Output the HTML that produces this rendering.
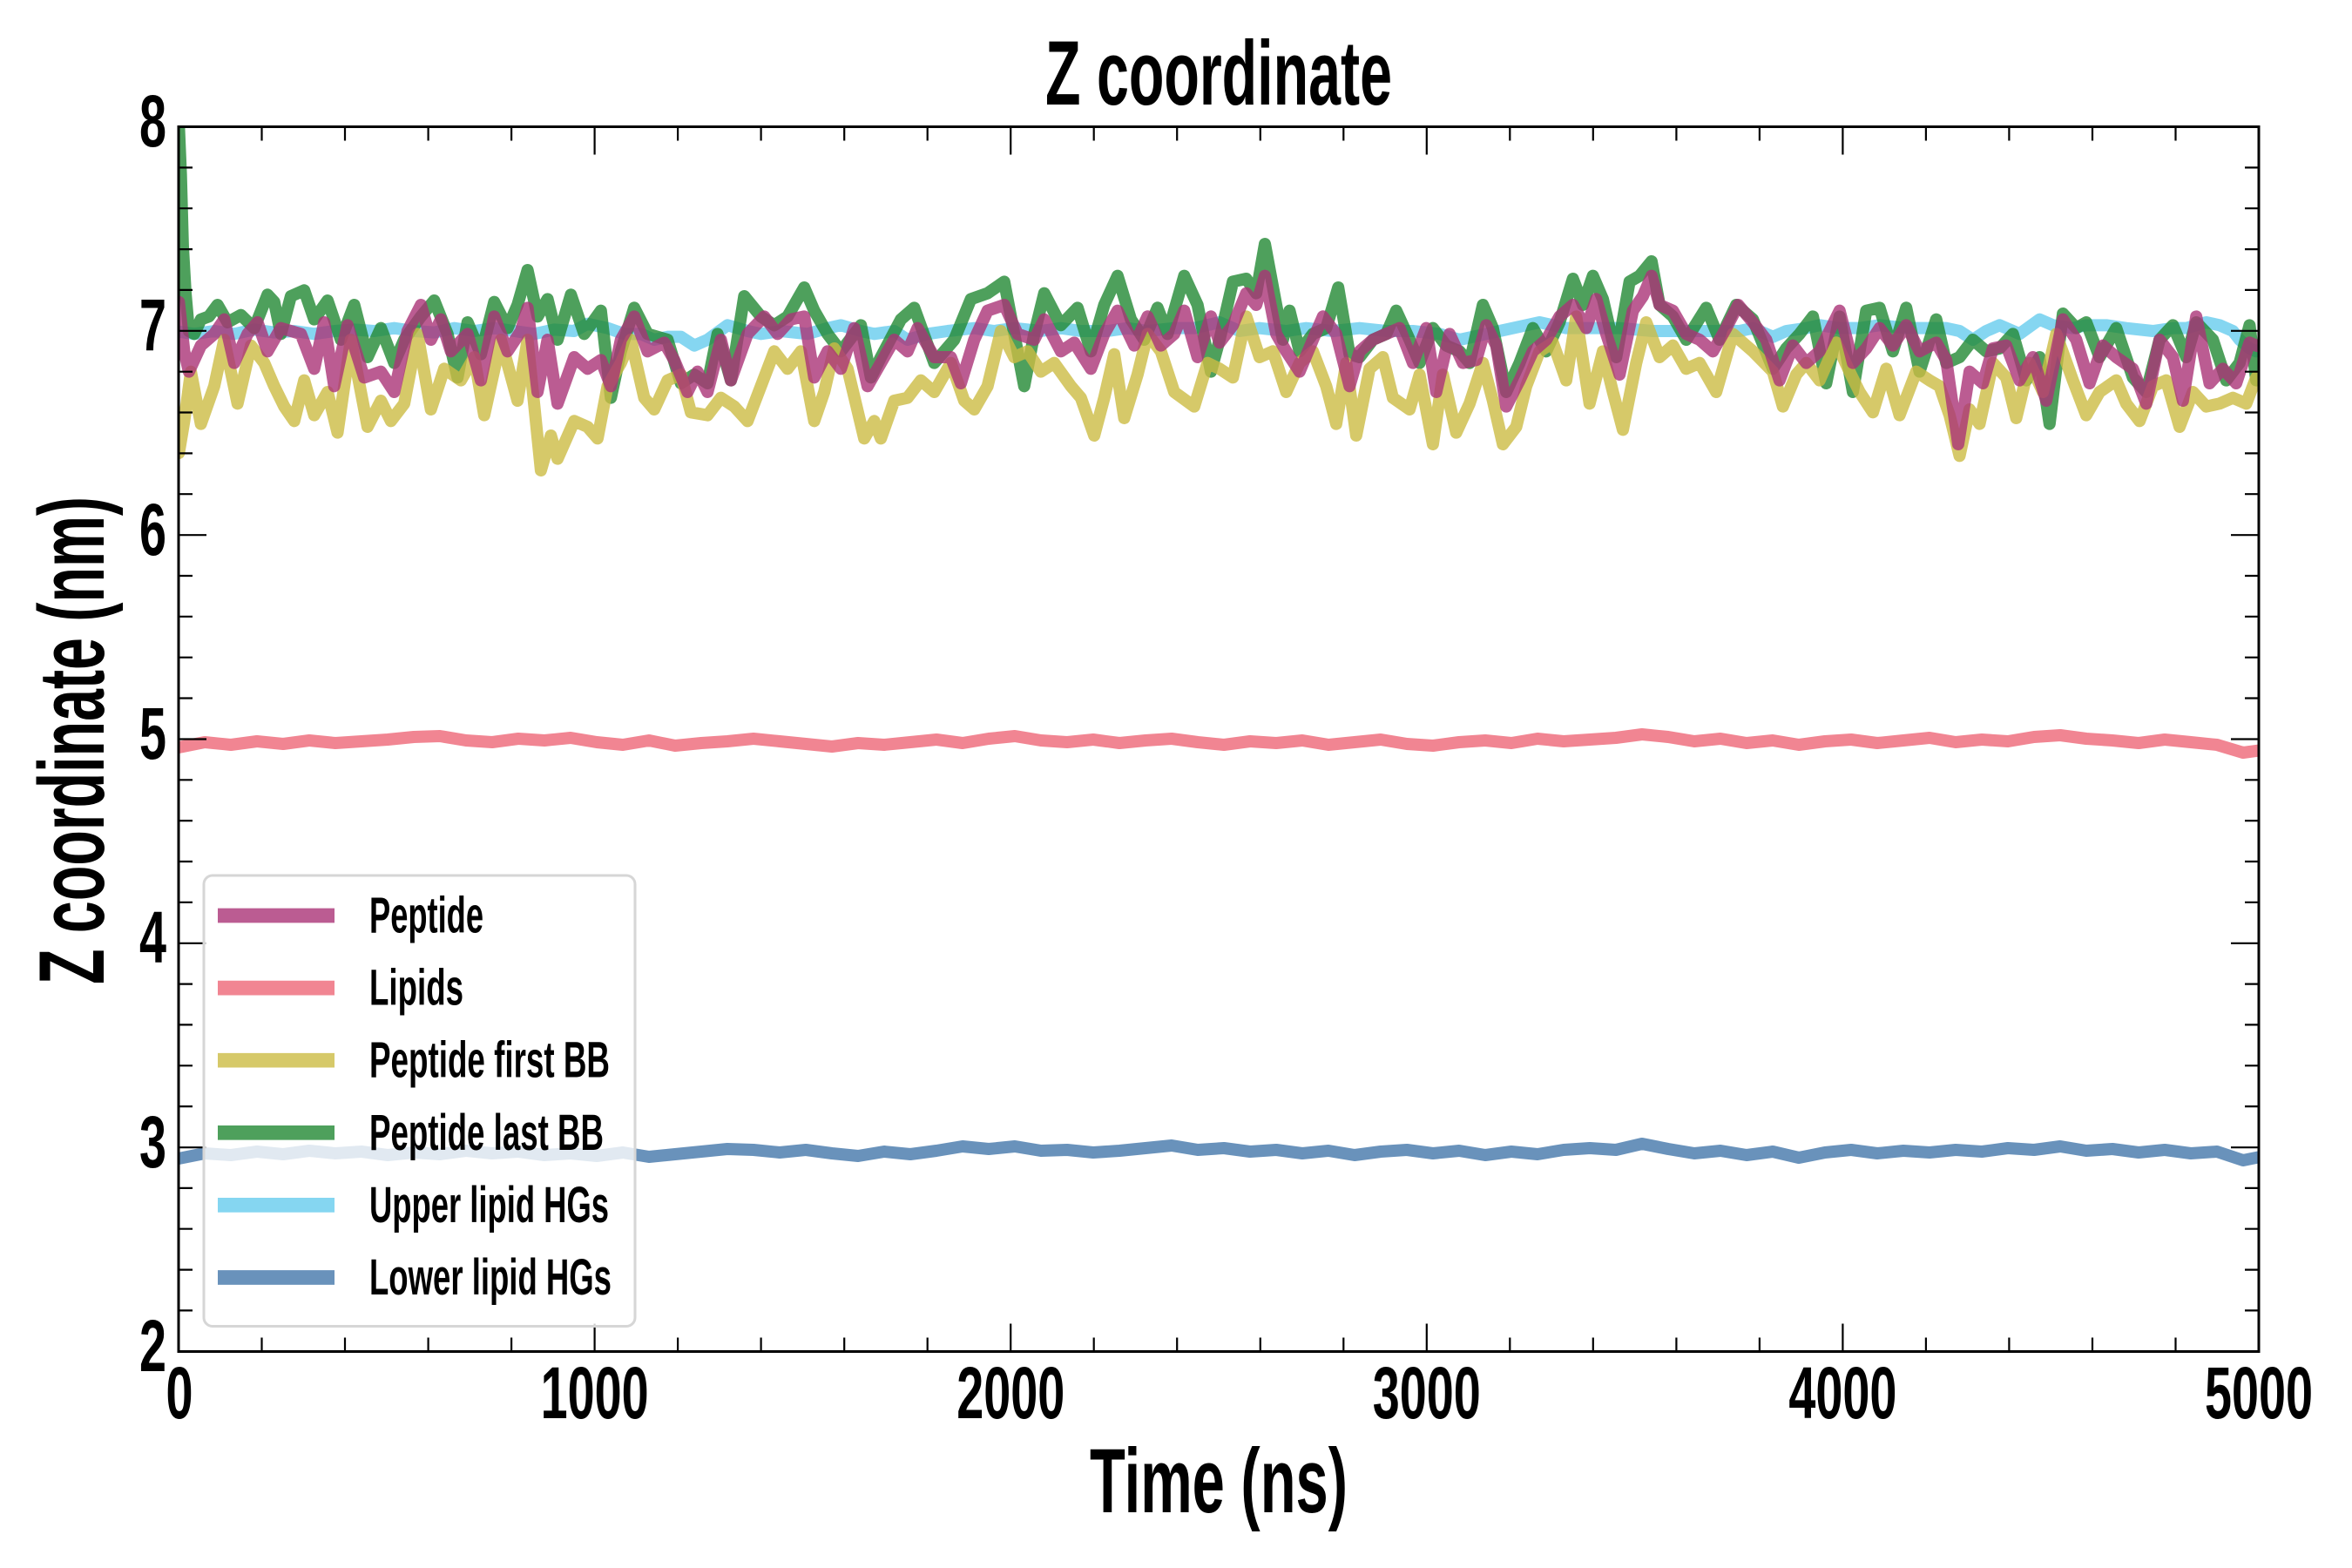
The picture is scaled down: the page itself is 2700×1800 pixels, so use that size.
<!DOCTYPE html>
<html>
<head>
<meta charset="utf-8">
<style>
html,body{margin:0;padding:0;background:#fff;}
svg{display:block;}
text{font-family:"Liberation Sans Narrow","Liberation Sans",sans-serif;font-weight:bold;fill:#000;}
</style>
</head>
<body>
<svg width="2700" height="1800" viewBox="0 0 2700 1800" xmlns="http://www.w3.org/2000/svg">
<defs>
<clipPath id="pc"><rect x="205" y="145.5" width="2388" height="1406"/></clipPath>
</defs>
<rect width="2700" height="1800" fill="#fff"/>

<g clip-path="url(#pc)" fill="none" stroke-linejoin="round" stroke-linecap="round">
 <!-- Lower lipid HGs -->
 <g transform="translate(205,0) scale(30,1)">
  <polyline vector-effect="non-scaling-stroke" stroke="#4477AA" stroke-opacity="0.8" stroke-width="14" points="0,1330 1,1324 2,1326 3,1322 4,1325 5,1321 6,1324 7,1322 8,1326 9,1323 10,1325 11,1321 12,1324 13,1322 14,1326 15,1324 16,1327 17,1323 18,1328 19,1325 20,1322 21,1319 22,1320 23,1323 24,1320 25,1324 26,1327 27,1322 28,1325 29,1321 30,1316 31,1319 32,1316 33,1321 34,1320 35,1323 36,1321 37,1318 38,1315 39,1320 40,1318 41,1322 42,1320 43,1324 44,1321 45,1326 46,1322 47,1320 48,1324 49,1321 50,1326 51,1322 52,1325 53,1320 54,1318 55,1320 56,1313 57,1319 58,1324 59,1321 60,1326 61,1322 62,1329 63,1323 64,1320 65,1324 66,1321 67,1323 68,1320 69,1322 70,1318 71,1320 72,1316 73,1321 74,1319 75,1323 76,1320 77,1324 78,1322 79,1332 80,1326"/>
 </g>
 <g transform="translate(200,150) scale(0.76531,0.33333)">
  <!-- Upper lipid HGs -->
  <polyline vector-effect="non-scaling-stroke" stroke="#66CCEE" stroke-opacity="0.8" stroke-width="14" points="0,690 30,700 60,690 90,700 120,685 150,695 180,690 210,700 240,690 270,685 300,690 330,680 360,690 390,695 420,680 450,690 480,680 510,690 540,700 570,685 600,690 620,665 650,680 675,700 700,700 720,720 740,710 760,710 780,740 800,720 830,670 860,690 880,700 910,690 950,700 980,680 1000,670 1030,690 1050,700 1080,690 1100,720 1130,700 1160,690 1200,680 1230,690 1260,680 1300,690 1330,680 1360,690 1400,690 1430,680 1460,690 1500,680 1530,680 1568,660 1598,690 1628,680 1668,690 1698,680 1738,690 1778,680 1818,690 1858,690 1898,700 1928,720 1968,700 1988,690 2028,670 2048,660 2088,680 2128,680 2168,680 2218,690 2268,690 2308,690 2348,690 2368,680 2398,710 2418,690 2448,680 2468,670 2498,680 2528,680 2558,670 2598,680 2628,680 2658,680 2678,690 2698,720 2718,690 2738,670 2768,700 2798,650 2818,670 2848,680 2868,670 2898,670 2928,680 2968,690 2998,680 3018,680 3048,660 3068,670 3088,690 3098,720 3113,750 3123,760 3140,740"/>
  <!-- Peptide last BB (green) -->
  <polyline vector-effect="non-scaling-stroke" stroke="#228833" stroke-opacity="0.8" stroke-width="14" points="7,-15 10,150 13,400 17,560 22,690 30,700 40,650 52,640 65,600 80,660 100,635 120,680 140,565 150,590 160,700 175,570 195,550 210,650 230,585 250,720 270,600 290,780 310,680 330,800 345,720 370,640 390,585 410,700 425,850 440,660 460,770 480,590 500,680 515,600 530,480 545,640 560,580 575,720 595,565 615,700 640,620 655,920 670,760 690,610 710,700 740,720 760,870 780,840 800,870 815,700 835,860 855,570 880,640 900,670 920,640 945,540 960,620 980,700 1000,760 1030,670 1045,850 1060,780 1090,650 1110,610 1140,800 1170,720 1195,580 1220,560 1245,520 1260,700 1275,880 1290,700 1305,560 1330,670 1355,610 1375,760 1395,600 1415,500 1435,650 1455,720 1475,610 1490,700 1515,500 1535,600 1555,830 1568,720 1588,520 1608,510 1623,560 1636,390 1653,600 1663,720 1673,620 1688,760 1708,700 1728,680 1746,540 1763,770 1778,780 1798,720 1818,700 1833,620 1853,720 1868,800 1888,680 1908,740 1928,760 1943,800 1963,600 1978,680 1998,900 2018,800 2038,680 2058,760 2078,660 2098,510 2113,600 2128,500 2143,580 2163,780 2183,520 2198,500 2216,450 2228,600 2248,640 2268,720 2298,610 2318,720 2343,600 2368,650 2398,820 2418,750 2438,700 2458,640 2478,870 2498,640 2518,900 2538,620 2558,610 2578,760 2598,610 2618,830 2643,650 2658,800 2678,780 2698,720 2718,760 2738,750 2758,700 2778,860 2798,780 2813,1010 2833,630 2853,680 2868,660 2888,780 2913,680 2938,850 2958,900 2978,720 2998,670 3018,780 3033,660 3058,720 3078,860 3098,800 3113,670 3123,860 3140,800"/>
  <!-- Peptide first BB (yellow) -->
  <polyline vector-effect="non-scaling-stroke" stroke="#CCBB44" stroke-opacity="0.8" stroke-width="14" points="7,1110 15,1000 25,830 40,1010 60,880 75,720 95,940 115,740 135,800 150,880 165,950 180,1000 195,860 210,980 230,900 245,1040 265,720 290,1020 310,930 325,1000 345,940 365,700 385,960 405,820 430,860 450,780 465,980 490,720 515,930 530,720 550,1170 565,1050 575,1130 600,1000 620,1020 635,1060 650,880 670,800 685,720 705,920 720,960 740,860 760,840 775,970 800,980 820,920 840,950 860,1000 880,880 900,760 920,820 940,760 960,1000 975,900 990,750 1010,820 1035,1060 1050,1000 1060,1060 1080,930 1100,920 1120,860 1140,900 1165,800 1185,930 1200,960 1220,880 1240,690 1260,780 1280,760 1300,830 1320,800 1345,880 1360,920 1380,1050 1395,920 1410,770 1425,990 1445,840 1460,700 1480,760 1500,900 1530,950 1550,800 1568,820 1588,850 1608,640 1628,780 1648,760 1668,900 1688,800 1708,760 1728,880 1743,1010 1758,800 1773,1050 1793,820 1813,780 1828,920 1853,960 1868,840 1888,1080 1903,840 1923,1040 1943,940 1963,800 1978,930 1993,1080 2013,1020 2028,880 2048,760 2068,730 2088,860 2103,640 2123,940 2143,760 2158,900 2173,1030 2193,800 2208,660 2228,780 2248,740 2268,820 2288,800 2313,900 2338,700 2368,760 2398,830 2413,950 2433,840 2448,800 2468,860 2493,730 2513,830 2528,900 2548,970 2568,820 2588,980 2613,830 2633,860 2648,880 2663,980 2678,1120 2693,960 2708,1010 2728,800 2748,850 2763,990 2783,800 2803,900 2823,700 2848,860 2868,980 2888,900 2913,860 2928,940 2948,1000 2968,880 2988,860 3008,1020 3028,900 3048,950 3068,940 3088,920 3108,940 3123,850 3140,850"/>
 </g>
 <!-- Lipids -->
 <g transform="translate(205,0) scale(30,1)">
  <polyline vector-effect="non-scaling-stroke" stroke="#EE6677" stroke-opacity="0.8" stroke-width="14" points="0,858 1,852 2,855 3,851 4,854 5,850 6,853 7,851 8,849 9,846 10,845 11,850 12,852 13,848 14,850 15,847 16,852 17,855 18,850 19,856 20,853 21,851 22,848 23,851 24,854 25,857 26,853 27,855 28,852 29,849 30,853 31,848 32,845 33,850 34,852 35,849 36,853 37,850 38,848 39,852 40,855 41,851 42,853 43,850 44,855 45,852 46,849 47,854 48,856 49,852 50,850 51,853 52,848 53,851 54,849 55,847 56,843 57,846 58,851 59,848 60,853 61,850 62,855 63,851 64,849 65,853 66,850 67,847 68,852 69,849 70,851 71,846 72,844 73,848 74,850 75,853 76,849 77,852 78,855 79,864 80,860"/>
 </g>
 <g transform="translate(200,150) scale(0.76531,0.33333)">
  <!-- Peptide (purple) -->
  <polyline vector-effect="non-scaling-stroke" stroke="#AA3377" stroke-opacity="0.8" stroke-width="14" points="7,590 15,760 22,830 40,740 60,700 75,650 90,800 110,700 125,660 140,760 160,680 190,700 210,820 225,660 240,880 260,670 285,850 310,830 330,900 350,690 370,600 385,720 400,650 415,760 440,700 460,860 480,640 500,760 520,690 530,610 545,900 560,720 575,940 600,780 620,820 640,790 655,880 670,720 690,640 710,760 735,730 750,790 770,900 785,830 800,900 820,720 835,860 860,700 885,640 905,700 925,650 945,640 960,850 980,760 1000,820 1020,680 1040,880 1060,800 1080,720 1100,760 1115,680 1140,780 1165,780 1180,870 1200,720 1220,620 1245,600 1265,700 1290,720 1305,650 1330,760 1350,730 1375,820 1395,700 1415,620 1440,740 1460,640 1480,740 1500,700 1515,620 1535,780 1555,640 1568,730 1588,670 1608,560 1623,600 1636,500 1653,700 1668,760 1688,830 1708,720 1723,640 1743,700 1763,880 1778,760 1798,720 1818,700 1838,680 1858,800 1878,680 1893,900 1913,700 1933,800 1953,790 1968,670 1983,740 1998,950 2018,860 2038,760 2058,720 2078,640 2098,600 2118,680 2133,580 2148,700 2168,840 2188,620 2203,570 2216,500 2228,600 2248,620 2268,700 2288,720 2308,760 2328,680 2346,600 2368,660 2388,720 2408,860 2428,740 2448,800 2468,760 2498,620 2518,800 2538,750 2558,680 2578,740 2598,670 2618,760 2643,730 2658,790 2676,1080 2693,830 2713,870 2728,750 2748,740 2768,860 2788,780 2808,930 2833,650 2853,720 2873,870 2893,740 2913,780 2938,820 2958,940 2978,720 2998,780 3013,930 3033,640 3053,870 3073,820 3093,870 3113,730 3123,740 3140,750"/>
 </g>
</g>

<!-- ticks -->
<g stroke="#000" stroke-width="2.2" fill="none">
 <path d="M682.6,1551.5v-32M1160.2,1551.5v-32M1637.8,1551.5v-32M2115.4,1551.5v-32M682.6,145.5v32M1160.2,145.5v32M1637.8,145.5v32M2115.4,145.5v32"/>
 <path d="M300.5,1551.5v-16M396,1551.5v-16M491.6,1551.5v-16M587.1,1551.5v-16M778.1,1551.5v-16M873.6,1551.5v-16M969.2,1551.5v-16M1064.7,1551.5v-16M1255.7,1551.5v-16M1351.2,1551.5v-16M1446.8,1551.5v-16M1542.3,1551.5v-16M1733.3,1551.5v-16M1828.8,1551.5v-16M1924.4,1551.5v-16M2019.9,1551.5v-16M2210.9,1551.5v-16M2306.4,1551.5v-16M2402,1551.5v-16M2497.5,1551.5v-16
 M300.5,145.5v16M396,145.5v16M491.6,145.5v16M587.1,145.5v16M778.1,145.5v16M873.6,145.5v16M969.2,145.5v16M1064.7,145.5v16M1255.7,145.5v16M1351.2,145.5v16M1446.8,145.5v16M1542.3,145.5v16M1733.3,145.5v16M1828.8,145.5v16M1924.4,145.5v16M2019.9,145.5v16M2210.9,145.5v16M2306.4,145.5v16M2402,145.5v16M2497.5,145.5v16"/>
 <path d="M205,379.8h32M205,614.2h32M205,848.5h32M205,1082.8h32M205,1317.2h32M2593,379.8h-32M2593,614.2h-32M2593,848.5h-32M2593,1082.8h-32M2593,1317.2h-32"/>
 <path d="M205,192.4h16M205,239.2h16M205,286.1h16M205,332.9h16M205,426.7h16M205,473.5h16M205,520.4h16M205,567.2h16M205,661h16M205,707.8h16M205,754.7h16M205,801.5h16M205,895.3h16M205,942.1h16M205,989h16M205,1035.8h16M205,1129.6h16M205,1176.4h16M205,1223.3h16M205,1270.1h16M205,1363.9h16M205,1410.7h16M205,1457.6h16M205,1504.4h16
 M2593,192.4h-16M2593,239.2h-16M2593,286.1h-16M2593,332.9h-16M2593,426.7h-16M2593,473.5h-16M2593,520.4h-16M2593,567.2h-16M2593,661h-16M2593,707.8h-16M2593,754.7h-16M2593,801.5h-16M2593,895.3h-16M2593,942.1h-16M2593,989h-16M2593,1035.8h-16M2593,1129.6h-16M2593,1176.4h-16M2593,1223.3h-16M2593,1270.1h-16M2593,1363.9h-16M2593,1410.7h-16M2593,1457.6h-16M2593,1504.4h-16"/>
</g>

<!-- spines -->
<rect x="205" y="145.5" width="2388" height="1406" fill="none" stroke="#000" stroke-width="3"/>

<!-- legend -->
<rect x="234" y="1005" width="495" height="517.5" rx="10" ry="10" fill="#fff" fill-opacity="0.8" stroke="#d6d6d6" stroke-width="3"/>
<g stroke-width="16.7" stroke-opacity="0.8">
 <line x1="250" y1="1051" x2="384" y2="1051" stroke="#AA3377"/>
 <line x1="250" y1="1134.1" x2="384" y2="1134.1" stroke="#EE6677"/>
 <line x1="250" y1="1217.2" x2="384" y2="1217.2" stroke="#CCBB44"/>
 <line x1="250" y1="1300.3" x2="384" y2="1300.3" stroke="#228833"/>
 <line x1="250" y1="1383.4" x2="384" y2="1383.4" stroke="#66CCEE"/>
 <line x1="250" y1="1466.5" x2="384" y2="1466.5" stroke="#4477AA"/>
</g>
<g font-size="58">
 <text x="424" y="1070.5" textLength="131" lengthAdjust="spacingAndGlyphs">Peptide</text>
 <text x="424" y="1153.6" textLength="108" lengthAdjust="spacingAndGlyphs">Lipids</text>
 <text x="424" y="1236.7" textLength="276" lengthAdjust="spacingAndGlyphs">Peptide first BB</text>
 <text x="424" y="1319.8" textLength="269" lengthAdjust="spacingAndGlyphs">Peptide last BB</text>
 <text x="424" y="1402.9" textLength="275" lengthAdjust="spacingAndGlyphs">Upper lipid HGs</text>
 <text x="424" y="1486" textLength="278" lengthAdjust="spacingAndGlyphs">Lower lipid HGs</text>
</g>

<!-- y tick labels -->
<g font-size="84" text-anchor="end">
 <text x="191" y="168" textLength="31" lengthAdjust="spacingAndGlyphs">8</text>
 <text x="191" y="402" textLength="31" lengthAdjust="spacingAndGlyphs">7</text>
 <text x="191" y="637" textLength="31" lengthAdjust="spacingAndGlyphs">6</text>
 <text x="191" y="871" textLength="31" lengthAdjust="spacingAndGlyphs">5</text>
 <text x="191" y="1105" textLength="31" lengthAdjust="spacingAndGlyphs">4</text>
 <text x="191" y="1340" textLength="31" lengthAdjust="spacingAndGlyphs">3</text>
 <text x="191" y="1574" textLength="31" lengthAdjust="spacingAndGlyphs">2</text>
</g>

<!-- x tick labels -->
<g font-size="84" text-anchor="middle">
 <text x="206" y="1628" textLength="31" lengthAdjust="spacingAndGlyphs">0</text>
 <text x="682.6" y="1628" textLength="124" lengthAdjust="spacingAndGlyphs">1000</text>
 <text x="1160.2" y="1628" textLength="124" lengthAdjust="spacingAndGlyphs">2000</text>
 <text x="1637.8" y="1628" textLength="124" lengthAdjust="spacingAndGlyphs">3000</text>
 <text x="2115.4" y="1628" textLength="124" lengthAdjust="spacingAndGlyphs">4000</text>
 <text x="2593" y="1628" textLength="124" lengthAdjust="spacingAndGlyphs">5000</text>
</g>

<!-- title and axis labels -->
<text x="1399" y="120" font-size="105" text-anchor="middle" textLength="398" lengthAdjust="spacingAndGlyphs">Z coordinate</text>
<text x="1399" y="1736" font-size="105" text-anchor="middle" textLength="296" lengthAdjust="spacingAndGlyphs">Time (ns)</text>
<text transform="translate(119,850) rotate(-90)" x="0" y="0" font-size="107" text-anchor="middle" textLength="560" lengthAdjust="spacingAndGlyphs">Z coordinate (nm)</text>
</svg>
</body>
</html>
